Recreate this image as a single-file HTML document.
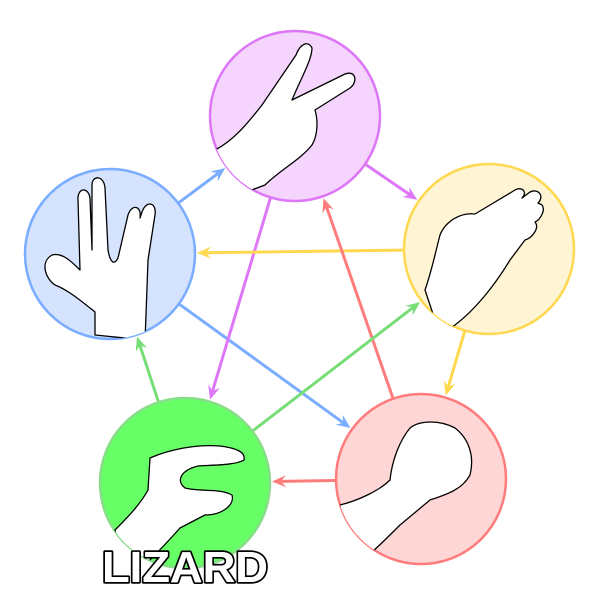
<!DOCTYPE html>
<html><head><meta charset="utf-8"><style>
html,body{margin:0;padding:0;background:#fff;width:600px;height:600px;overflow:hidden}
svg{display:block}
</style></head><body>
<svg id="chart" width="600" height="600" viewBox="0 0 600 600" xmlns="http://www.w3.org/2000/svg">
<defs>
 <clipPath id="c0"><circle cx="295" cy="116" r="85"/></clipPath>
 <clipPath id="c1"><circle cx="489" cy="249" r="85"/></clipPath>
 <clipPath id="c2"><circle cx="421" cy="479" r="85"/></clipPath>
 <clipPath id="c3"><circle cx="185" cy="483" r="85"/></clipPath>
 <clipPath id="c4"><circle cx="110" cy="254" r="85"/></clipPath>
</defs>
<g id="nodes"></g>
<g id="hands" fill="#fff" stroke="#000" stroke-width="1.3" stroke-linejoin="round">
 <path clip-path="url(#c0)" d="M215,150 C235,140 250,120 262,105 L296,55 C300,44 308,40 312,48 C312,60 300,80 292,100 L345,74 C356,70 358,82 350,88 L315,110 C318,120 318,135 312,145 C300,160 280,170 265,185 L225,200 Z"/>
 <path clip-path="url(#c1)" d="M425,290 C432,270 436,250 440,235 C445,222 460,212 475,214 L515,190 C522,186 528,192 522,198 L530,192 C538,188 545,196 538,203 L542,205 C546,210 540,220 535,222 C540,228 532,238 525,240 L510,260 C495,285 475,310 455,325 L440,335 Z"/>
 <path clip-path="url(#c2)" d="M340,505 C360,500 380,490 390,480 C392,460 400,440 410,428 C420,420 440,420 455,428 C468,438 475,455 470,475 C462,490 445,495 430,500 L400,525 C390,535 380,545 372,552 L345,560 Z"/>
 <path clip-path="url(#c3)" d="M115,530 C125,520 140,505 148,490 L150,458 C168,450 195,444 220,446 C236,448 246,452 244,460 C236,465 215,465 198,466 C182,470 175,480 185,488 C200,492 220,488 232,495 C235,505 222,515 205,515 L180,528 C165,545 150,560 140,570 L120,560 Z"/>
 <path clip-path="url(#c4)" d="M95,335 L95,312 C80,300 68,290 55,285 C45,278 40,262 52,255 C62,252 72,262 80,270 L78,200 C77,188 88,186 90,198 L92,250 L92,185 C92,175 104,175 105,188 L108,250 C110,262 114,266 118,258 L128,215 C132,203 142,206 140,218 L142,212 C146,200 157,202 155,215 L148,260 L146,315 L145,340 Z"/>
</g>
<g id="arrows"></g>
<text x="185" y="582" text-anchor="middle" textLength="166" lengthAdjust="spacingAndGlyphs" font-family="Liberation Sans, sans-serif" font-weight="bold" font-size="44" fill="#fff" stroke="#000" stroke-width="3.5" paint-order="stroke" stroke-linejoin="round">LIZARD</text>
<text x="185" y="582" text-anchor="middle" textLength="166" lengthAdjust="spacingAndGlyphs" font-family="Liberation Sans, sans-serif" font-weight="bold" font-size="44" fill="#fff">LIZARD</text>
</svg>
<script>
const names = ["scissors","paper","rock","lizard","spock"];
const cxs = [295,489,421,185,110];
const cys = [116,249,479,483,254];
const fills = ["#f5d4fd","#fff5d4","#ffd6d6","#66ff66","#d5e3ff"];
const strokes = ["#dd77f7","#ffd84f","#ff7c7c","#88dd88","#7aacff"];
const edgeFrom = [4,4,0,0,1,1,2,2,3,3];
const edgeTo   = [0,2,1,3,4,2,0,3,4,1];
const R = 86;
const NS = "http://www.w3.org/2000/svg";
const gN = document.getElementById('nodes');
names.forEach((n,i)=>{
  const c = document.createElementNS(NS,'circle');
  c.setAttribute('cx',cxs[i]);c.setAttribute('cy',cys[i]);c.setAttribute('r',85);
  c.setAttribute('fill',fills[i]);c.setAttribute('stroke',strokes[i]);c.setAttribute('stroke-width',2.5);
  
  
  gN.appendChild(c);
});
const gA = document.getElementById('arrows');
edgeFrom.forEach((f,k)=>{
  const t = edgeTo[k];
  const dx = cxs[t]-cxs[f], dy = cys[t]-cys[f], L = Math.hypot(dx,dy);
  const ux = dx/L, uy = dy/L;
  const x1 = cxs[f]+ux*R, y1 = cys[f]+uy*R;
  const x2 = cxs[t]-ux*(R+1), y2 = cys[t]-uy*(R+1);
  const g = document.createElementNS(NS,'g');
  
  
  const col = strokes[f]==="#88dd88" ? "#77dd77" : strokes[f];
  const l = document.createElementNS(NS,'line');
  l.setAttribute('x1',x1);l.setAttribute('y1',y1);l.setAttribute('x2',x2-ux*8);l.setAttribute('y2',y2-uy*8);
  l.setAttribute('stroke',col);l.setAttribute('stroke-width',3);
  g.appendChild(l);
  const px = -uy, py = ux;
  const bx = x2-ux*14, by = y2-uy*14;
  const mx = x2-ux*9, my = y2-uy*9;
  const p = document.createElementNS(NS,'path');
  p.setAttribute('d',`M${x2},${y2} L${bx+px*6},${by+py*6} L${mx},${my} L${bx-px*6},${by-py*6} Z`);
  p.setAttribute('fill',col);
  g.appendChild(p);
  gA.appendChild(g);
});
</script>
</body></html>
